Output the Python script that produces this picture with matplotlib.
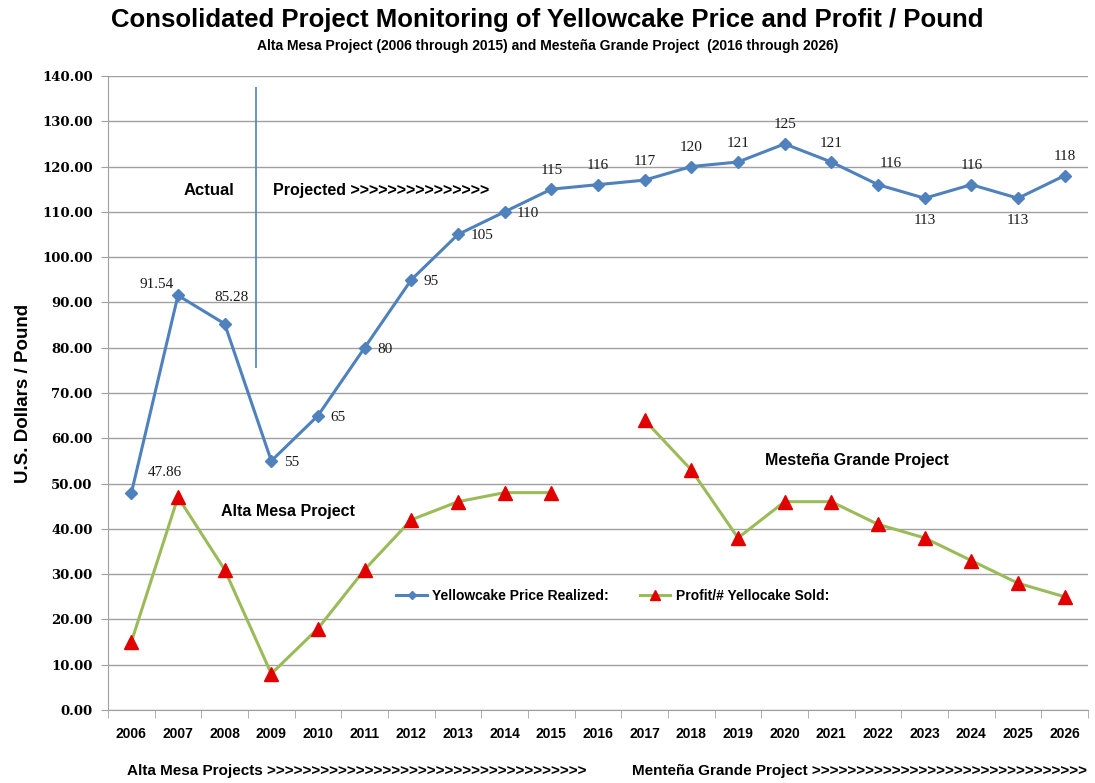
import matplotlib.pyplot as plt
import numpy as np

# Yearly price and profit per pound, 2006-2026
years = ['2006', '2007', '2008', '2009', '2010', '2011', '2012', '2013', '2014', '2015', '2016',
         '2017', '2018', '2019', '2020', '2021', '2022', '2023', '2024', '2025', '2026']
price = [47.86, 91.54, 85.28, 55, 65, 80, 95, 105, 110, 115, 116,
         117, 120, 121, 125, 121, 116, 113, 116, 113, 118]
price_labels = ['47.86', '91.54', '85.28', '55', '65', '80', '95', '105', '110', '115', '116',
                '117', '120', '121', '125', '121', '116', '113', '116', '113', '118']
# no profit figure for 2016 (gap between the two projects)
profit = [15, 47, 31, 8, 18, 31, 42, 46, 48, 48, np.nan,
          64, 53, 38, 46, 46, 41, 38, 33, 28, 25]

# where each price label sits relative to its point (offset in points)
label_pos = ['ur', 'ul', 'u2', 'r', 'r', 'r', 'r', 'r', 'r', 'u', 'u',
             'u', 'u', 'u', 'u', 'u', 'ur2', 'd', 'u', 'd', 'u']
offsets = {'u': (0, 9, 'center', 'bottom'), 'd': (0, -11, 'center', 'top'),
           'r': (9, -1, 'left', 'center'), 'ur': (12, 15, 'left', 'center'),
           'ul': (-3, 8, 'right', 'center'), 'u2': (5, 19, 'center', 'center'),
           'ur2': (9, 15, 'center', 'center')}

blue = '#4F81BD'
green = '#9BBB59'
red = '#E00000'
grid = '#a0a0a0'
sans = ['Liberation Sans', 'DejaVu Sans']

fig = plt.figure(figsize=(10.95, 7.83), dpi=100)
ax = fig.add_axes([0.0986, 0.0932, 0.8950, 0.8098])

x = np.arange(len(years))
ax.plot(x, price, color=blue, lw=2.2, marker='D', ms=6.5, mfc=blue, mec=blue,
        label='Yellowcake Price Realized:', zorder=4)
ax.plot(x, profit, color=green, lw=2.2, marker='^', ms=10, mfc=red, mec=red,
        label='Profit/# Yellocake Sold:', zorder=3)

for xi, v, s, p in zip(x, price, price_labels, label_pos):
    dx, dy, ha, va = offsets[p]
    ax.annotate(s, (xi, v), xytext=(dx, dy), textcoords='offset points',
                ha=ha, va=va, fontsize=11, family='Liberation Serif', color='#1a1a1a')

ax.set_xlim(-0.5, len(years) - 0.5)
ax.set_ylim(0, 140)
ax.set_yticks(np.arange(0, 141, 10))
ax.set_yticklabels([f'{v:.2f}' for v in np.arange(0, 141, 10)],
                   family='DejaVu Serif', fontweight='bold', fontsize=9.5)
ax.yaxis.grid(True, color=grid, lw=1)
ax.set_axisbelow(True)

ax.set_xticks(x)
ax.set_xticklabels(years, family=sans, fontweight='bold', fontsize=10)
ax.set_xticks(np.arange(-0.5, len(years)), minor=True)
ax.tick_params(axis='x', which='major', length=0, pad=12)
ax.tick_params(axis='x', which='minor', length=6, color=grid)
ax.tick_params(axis='y', length=5, color=grid, pad=6)

for side in ['top', 'right']:
    ax.spines[side].set_visible(False)
for side in ['left', 'bottom']:
    ax.spines[side].set_color(grid)

ax.set_ylabel('U.S. Dollars / Pound', family=sans, fontweight='bold', fontsize=13.5, labelpad=7)

# actual vs projected divider
ax.vlines(2.67, 75.5, 137.5, color=blue, lw=1.2)
ax.text(1.67, 114.8, 'Actual', ha='center', va='center', family=sans,
        fontweight='bold', fontsize=12)
ax.text(3.04, 114.8, 'Projected >>>>>>>>>>>>>>>', ha='left', va='center', family=sans,
        fontweight='bold', fontsize=11.5)
ax.text(3.36, 43.9, 'Alta Mesa Project', ha='center', va='center', family=sans,
        fontweight='bold', fontsize=11.5)
ax.text(15.55, 55, 'Mesteña Grande Project', ha='center', va='center', family=sans,
        fontweight='bold', fontsize=11.5)

ax.legend(loc='center', bbox_to_anchor=(0.515, 0.18), ncol=2, frameon=False,
          prop={'family': sans, 'weight': 'bold', 'size': 10}, columnspacing=2.2,
          handlelength=2.2, handletextpad=0.4, markerscale=0.7)

fig.text(0.5, 0.974, 'Consolidated Project Monitoring of Yellowcake Price and Profit / Pound',
         ha='center', va='center', family=sans, fontweight='bold', fontsize=18.5)
fig.text(0.5, 0.941, 'Alta Mesa Project (2006 through 2015) and Mesteña Grande Project  (2016 through 2026)',
         ha='center', va='center', family=sans, fontweight='bold', fontsize=10)

fig.text(0.116, 0.015, 'Alta Mesa Projects ' + '>' * 36, ha='left', va='center',
         family=sans, fontweight='bold', fontsize=11)
fig.text(0.577, 0.015, 'Menteña Grande Project ' + '>' * 31, ha='left', va='center',
         family=sans, fontweight='bold', fontsize=11)

fig.savefig('out.png', dpi=100)
